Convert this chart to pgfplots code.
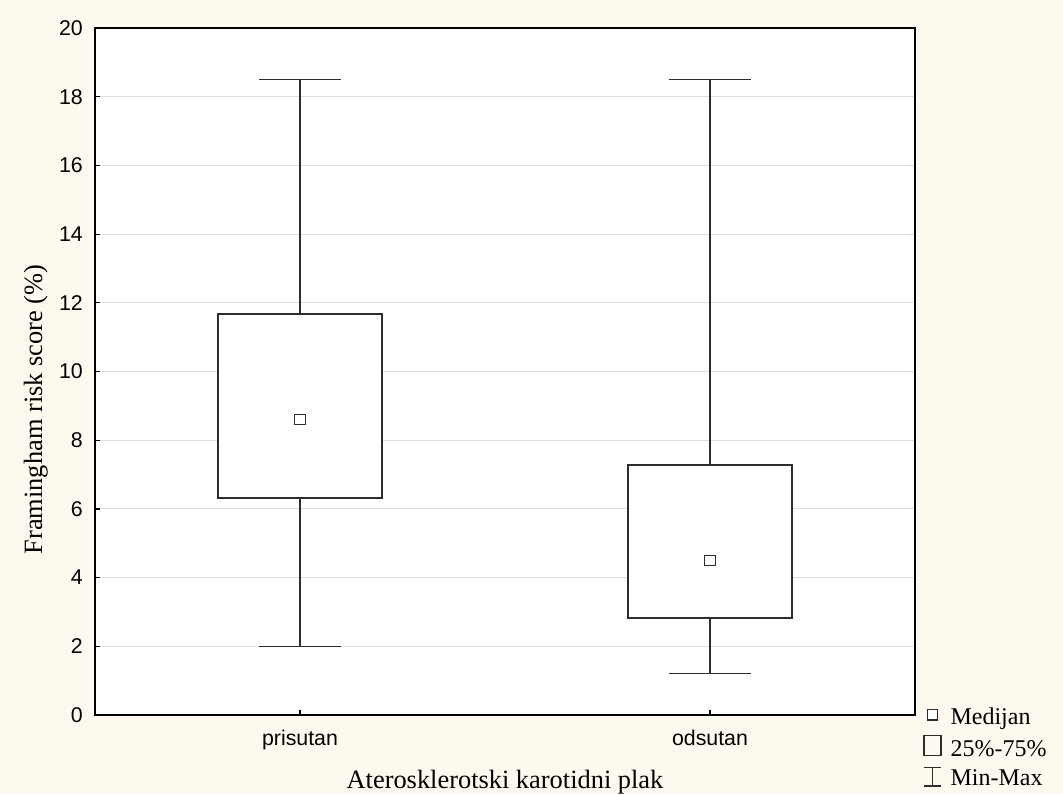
\documentclass[border=0pt]{standalone}
\usepackage{fontspec}
\setmainfont{Liberation Serif}
\newfontfamily\sansf{Liberation Sans}
\usepackage{pgfplots}
\pgfplotsset{compat=1.18}
\usepgfplotslibrary{statistics}
\definecolor{bgc}{RGB}{253,249,238}
\definecolor{gridc}{RGB}{222,222,222}
\definecolor{boxc}{RGB}{45,45,45}

\begin{document}
\begin{tikzpicture}
\fill[bgc] (0,0) rectangle (797.25pt,595.5pt);
\useasboundingbox (0,0) rectangle (797.25pt,595.5pt);
\begin{axis}[
  at={(71.25pt,59.25pt)}, anchor=south west,
  scale only axis, width=615pt, height=515.25pt,
  xmin=-0.5, xmax=1.5, ymin=0, ymax=20,
  xtick={0,1}, xticklabels={prisutan,odsutan},
  ytick={0,2,...,20},
  tick align=inside, major tick length=3.5pt,
  xtick pos=bottom, ytick pos=left,
  ymajorgrids, grid style={gridc, line width=0.75pt},
  axis line style={line width=0.9pt},
  tick style={line width=0.9pt, black},
  axis background/.style={fill=white},
  /pgf/number format/assume math mode=true,
  ticklabel style={font=\sansf\fontsize{16}{19}\selectfont},
  yticklabel style={anchor=east, inner sep=0pt, xshift=-9pt},
  xticklabel style={anchor=base, inner sep=0pt, yshift=-22.5pt},
  xlabel={Aterosklerotski karotidni plak},
  ylabel={Framingham risk score (\%)},
  label style={font=\fontsize{19.8}{23}\selectfont},
  xlabel style={at={(axis description cs:0.5,-0.1067)}, anchor=base, inner sep=0pt},
  ylabel style={at={(axis description cs:-0.0646,0.4447)}, anchor=base, inner sep=0pt},
  boxplot/draw direction=y,
  boxplot/every box/.style={draw=boxc, line width=1.5pt, fill=white},
  boxplot/every whisker/.style={draw=boxc, line width=0.8pt},
  boxplot/draw/median/.code={},
  legend style={at={(axis description cs:1,0)}, anchor=north west, xshift=5.8pt, yshift=7pt,
    draw=none, fill=none, inner sep=0pt, row sep=0pt,
    font=\fontsize{18}{21}\selectfont,
    nodes={inner sep=0pt, text height=14pt, text depth=7.5pt}},
  legend cell align=left,
]
\addplot[forget plot, boxplot prepared={draw position=0, lower whisker=2.0, lower quartile=6.32,
   median=8.6, upper quartile=11.67, upper whisker=18.5, box extend=0.4, whisker extend=0.2}]
   coordinates {};
\addplot[forget plot, boxplot prepared={draw position=1, lower whisker=1.2, lower quartile=2.82,
   median=4.5, upper quartile=7.28, upper whisker=18.5, box extend=0.4, whisker extend=0.2}]
   coordinates {};
\addplot[forget plot, only marks, mark=square*, mark size=3.9pt,
   mark options={draw=boxc, fill=white, line width=0.9pt}]
   coordinates {(0,8.6) (1,4.5)};
\addlegendimage{legend image code/.code={
   \path (0pt,0pt) (20.25pt,0pt);
   \draw[boxc, line width=0.9pt, fill=white] (2.9pt,0.2pt) rectangle (10.6pt,7.9pt);}}
\addlegendentry{Medijan}
\addlegendimage{legend image code/.code={
   \path (0pt,0pt) (20.25pt,0pt);
   \draw[boxc, line width=1.4pt] (0.5pt,-2.5pt) rectangle (13pt,12.5pt);}}
\addlegendentry{25\%-75\%}
\addlegendimage{legend image code/.code={
   \path (0pt,0pt) (20.25pt,0pt);
   \draw[boxc, line width=0.8pt] (0.3pt,-3.8pt) -- (13.2pt,-3.8pt)
      (6.75pt,-3.8pt) -- (6.75pt,10.4pt) (0.3pt,10.4pt) -- (13.2pt,10.4pt);}}
\addlegendentry{Min-Max}
\end{axis}
\end{tikzpicture}
\end{document}
